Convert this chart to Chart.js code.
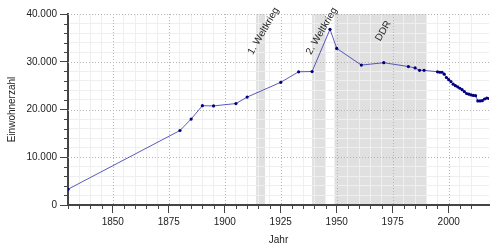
<!doctype html>
<html lang="de">
  <head>
    <meta charset="utf-8">
    <title>Einwohnerentwicklung</title>
    <style>
      * {
        margin: 0;
        padding: 0;
      }
      body {
        background: #fff;
      }
    </style>
  </head>
  <body>
    <canvas id="myChart" width="500" height="250"></canvas>
    <script src="https://cdn.jsdelivr.net/npm/chart.js"></script>
    <script>
    // data
    const years = [1830, 1880, 1885, 1890, 1895, 1905, 1910, 1925, 1933, 1939, 1947, 1950,
      1961, 1971, 1982, 1985, 1987, 1989, 1995, 1996, 1997, 1998, 1999, 2000, 2001,
      2002, 2003, 2004, 2005, 2006, 2007, 2008, 2009, 2010, 2011, 2012, 2013, 2014,
      2015, 2016, 2017, 2018];
    const population = [3300, 15600, 18000, 20800, 20750, 21250, 22600, 25700, 27900, 27950, 36800, 32800,
      29300, 29800, 29000, 28700, 28200, 28200, 27900, 27800, 27800, 27400, 26700, 26250, 25850,
      25300, 25000, 24750, 24450, 24150, 23750, 23350, 23200, 23050, 22950, 22900, 21800, 21800,
      21850, 22200, 22400, 22300];

    const bandStart = [1914, 1939, 1949];
    const bandEnd = [1918, 1945, 1990];
    const bandLabels = ['1. Weltkrieg', '2. Weltkrieg', 'DDR'];

    const FONT = '"Liberation Sans", Arial, sans-serif';

    function fmt(v) {
      return String(v).replace(/\B(?=(\d{3})+(?!\d))/g, '.');
    }
    const isMajorX = v => v % 25 === 0;
    const isMajorY = v => v % 10000 === 0;

    // shaded periods + dotted main grid + short minor ticks + labels
    const periods = {
      id: 'periods',
      beforeDraw(chart) {
        const {ctx, chartArea, scales: {x}} = chart;
        ctx.save();
        ctx.fillStyle = '#e0e0e0';
        for (let i = 0; i < bandStart.length; i++) {
          const x0 = x.getPixelForValue(bandStart[i]);
          const x1 = x.getPixelForValue(bandEnd[i]);
          ctx.fillRect(x0, chartArea.top, x1 - x0, chartArea.bottom - chartArea.top);
        }
        ctx.restore();
      },
      beforeDatasetsDraw(chart) {
        const {ctx, chartArea, scales: {x, y}} = chart;
        ctx.save();
        ctx.strokeStyle = '#b4b4b4';
        ctx.lineWidth = 1;
        ctx.setLineDash([1, 2]);
        x.ticks.forEach(t => {
          if (!isMajorX(t.value) || t.value === x.min) return;
          const px = Math.round(x.getPixelForValue(t.value)) + 0.5;
          ctx.beginPath();
          ctx.moveTo(px, chartArea.top);
          ctx.lineTo(px, chartArea.bottom);
          ctx.stroke();
        });
        y.ticks.forEach(t => {
          if (!isMajorY(t.value) || t.value === y.min) return;
          const py = Math.round(y.getPixelForValue(t.value)) + 0.5;
          ctx.beginPath();
          ctx.moveTo(chartArea.left, py);
          ctx.lineTo(chartArea.right, py);
          ctx.stroke();
        });
        ctx.setLineDash([]);
        // short minor ticks
        ctx.strokeStyle = '#444';
        x.ticks.forEach(t => {
          if (isMajorX(t.value)) return;
          const px = Math.round(x.getPixelForValue(t.value)) + 0.5;
          ctx.beginPath();
          ctx.moveTo(px, chartArea.bottom);
          ctx.lineTo(px, chartArea.bottom + 4);
          ctx.stroke();
        });
        y.ticks.forEach(t => {
          if (isMajorY(t.value)) return;
          const py = Math.round(y.getPixelForValue(t.value)) + 0.5;
          ctx.beginPath();
          ctx.moveTo(chartArea.left, py);
          ctx.lineTo(chartArea.left - 4, py);
          ctx.stroke();
        });
        ctx.restore();
      },
      afterDraw(chart) {
        const {ctx, scales: {x}} = chart;
        ctx.save();
        ctx.font = '10px ' + FONT;
        ctx.fillStyle = '#222';
        ctx.textAlign = 'center';
        ctx.textBaseline = 'middle';
        for (let i = 0; i < bandLabels.length; i++) {
          const cx = x.getPixelForValue((bandStart[i] + bandEnd[i]) / 2) + 3;
          ctx.save();
          ctx.translate(cx, 31);
          ctx.rotate(-Math.PI / 3);
          ctx.fillText(bandLabels[i], 0, 0);
          ctx.restore();
        }
        ctx.restore();
      }
    };

    // config
    const config = {
      type: 'line',
      data: {
        datasets: [{
          data: years.map((yr, i) => ({x: yr, y: population[i]})),
          borderColor: 'rgba(50, 50, 170, 0.8)',
          borderWidth: 1,
          pointRadius: 1.6,
          pointBackgroundColor: '#000080',
          pointBorderWidth: 0,
          tension: 0
        }]
      },
      options: {
        responsive: false,
        animation: false,
        devicePixelRatio: 1,
        layout: {
          padding: {top: 14, right: 11, left: 0, bottom: 0}
        },
        plugins: {
          legend: {display: false},
          tooltip: {enabled: false}
        },
        scales: {
          x: {
            type: 'linear',
            min: 1830,
            max: 2018,
            afterBuildTicks: s => { s.ticks = s.ticks.filter(t => t.value % 5 === 0); },
            afterFit: s => { s.height = 45; },
            ticks: {
              stepSize: 5,
              autoSkip: false,
              maxRotation: 0,
              padding: 3,
              color: '#222',
              font: {family: FONT, size: 10},
              callback: v => isMajorX(v) ? String(v) : ''
            },
            grid: {
              color: c => isMajorX(c.tick.value) ? 'rgba(0,0,0,0)' : '#efefef',
              tickColor: c => isMajorX(c.tick.value) ? '#444' : 'rgba(0,0,0,0)',
              tickLength: 8
            },
            border: {color: '#444', width: 2},
            title: {
              display: true,
              text: 'Jahr',
              color: '#222',
              font: {family: FONT, size: 10}
            }
          },
          y: {
            min: 0,
            max: 40000,
            afterFit: s => { s.width = 68; },
            ticks: {
              stepSize: 2000,
              autoSkip: false,
              padding: 3,
              color: '#222',
              font: {family: FONT, size: 10},
              callback: v => isMajorY(v) ? fmt(v) : ''
            },
            grid: {
              color: c => isMajorY(c.tick.value) ? 'rgba(0,0,0,0)' : '#efefef',
              tickColor: c => isMajorY(c.tick.value) ? '#444' : 'rgba(0,0,0,0)',
              tickLength: 8
            },
            border: {color: '#444', width: 2},
            title: {
              display: true,
              text: 'Einwohnerzahl',
              color: '#222',
              padding: {top: 6, bottom: 4},
              font: {family: FONT, size: 10}
            }
          }
        }
      },
      plugins: [periods]
    };

    // render init block
    const myChart = new Chart(document.getElementById('myChart'), config);
    </script>
  </body>
</html>
